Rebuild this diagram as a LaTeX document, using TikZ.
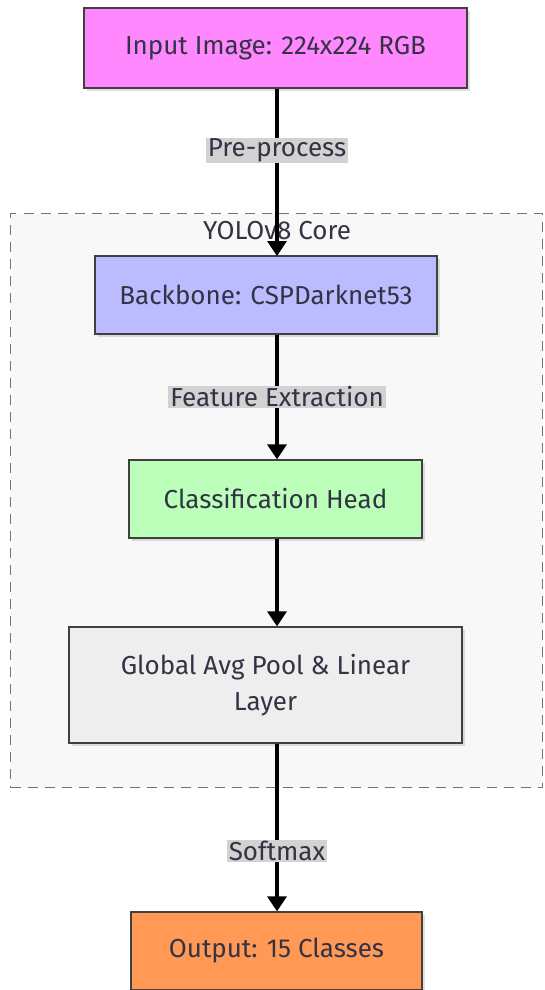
\documentclass[tikz,border=0pt]{standalone}
\usepackage{fontspec}
\setmainfont{Fira Sans}
\usetikzlibrary{arrows.meta,shadows}
\definecolor{inputfill}{HTML}{FF88FF}
\definecolor{backfill}{HTML}{BBBBFF}
\definecolor{headfill}{HTML}{BBFFBB}
\definecolor{poolfill}{HTML}{EEEEEE}
\definecolor{outfill}{HTML}{FF9955}
\definecolor{clusterfill}{HTML}{F8F8F8}
\definecolor{labelfill}{HTML}{D2D2D2}
\definecolor{txt}{HTML}{333344}
\tikzset{
  x=1pt, y=-1pt,
  every node/.style={font=\fontsize{26}{36}\selectfont, text=txt},
  stage/.style={draw=black!75, line width=1.3pt, inner sep=0pt, align=center,
    drop shadow={shadow xshift=3pt, shadow yshift=-3pt, fill=black, opacity=0.12}},
  flow/.style={line width=3.4pt, -{Triangle[length=15pt,width=19pt]}},
  tag/.style={fill=labelfill, inner xsep=2pt, inner ysep=1pt, font=\fontsize{26}{30}\selectfont},
}
\begin{document}
\begin{tikzpicture}
\useasboundingbox (0,0) rectangle (544,990);
\fill[white] (0,0) rectangle (544,990);
% cluster
\node[draw=black!55, dash pattern=on 10pt off 7pt, line width=1pt, fill=clusterfill,
  minimum width=532pt, minimum height=574pt, inner sep=0pt, anchor=north west] (core) at (10,213) {};
\node at (277,231) (coretitle) {YOLOv8 Core};
% stages
\node[stage, fill=inputfill, minimum width=383pt, minimum height=80pt] (input) at (275.5,48) {Input Image: 224x224 RGB};
\node[stage, fill=backfill, minimum width=342pt, minimum height=78pt] (backbone) at (266,295) {Backbone: CSPDarknet53};
\node[stage, fill=headfill, minimum width=293pt, minimum height=78pt] (head) at (275.5,499) {Classification Head};
\node[stage, fill=poolfill, minimum width=393pt, minimum height=116pt] (pool) at (265.5,685) {Global Avg Pool \& Linear\\Layer};
\node[stage, fill=outfill, minimum width=291pt, minimum height=78pt] (output) at (276.5,951) {Output: 15 Classes};
% connectors
\draw[flow] (input.south -| 277,0) -- (277,256) node[pos=0.37, tag] (lpre) {Pre-process};
\draw[flow] (backbone.south -| 277,0) -- (head.north -| 277,0) node[midway, tag] (lfeat) {Feature Extraction};
\draw[flow] (head.south -| 277,0) -- (pool.north -| 277,0);
\draw[flow] (pool.south -| 277,0) -- (output.north -| 277,0) node[pos=0.64, tag] (lsoft) {Softmax};
\end{tikzpicture}
\end{document}
